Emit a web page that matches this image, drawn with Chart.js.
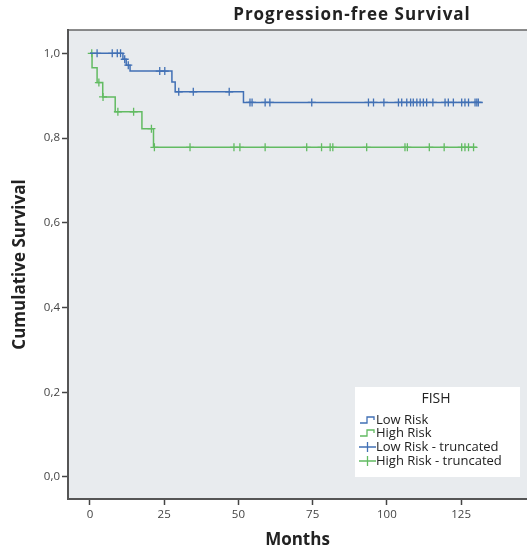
<!DOCTYPE html>
<html>
<head>
<meta charset="utf-8">
<script src="https://cdn.jsdelivr.net/npm/chart.js@4.4.1/dist/chart.umd.min.js"></script>
<style>
  body { margin: 0; background: #fff; }
</style>
</head>
<body>
<canvas id="pfsChart" width="527" height="552"></canvas>
<script>
// Kaplan-Meier steps (months, cumulative survival)
const lowTimes = [0, 11.1, 12.2, 13.5, 27.6, 28.7, 51.7, 132.3];
const lowSurv = [1.0, 0.986, 0.972, 0.958, 0.932, 0.909, 0.884, 0.884];
const highTimes = [0, 0.7, 2.4, 4.3, 8.5, 17.5, 21.4, 130.3];
const highSurv = [1.0, 0.966, 0.931, 0.897, 0.862, 0.822, 0.778, 0.778];

// censored cases (months)
const lowCensor = [2.4, 7.5, 9.2, 10.3, 11.7, 12.9, 23.5, 25.2, 29.9, 34.8, 46.9, 53.9, 54.6, 59, 60.6,
    74.7, 93.8, 95.5, 99, 103.9, 105, 106.7, 108, 108.9, 110.1, 111.2, 112.3, 113.4, 115.5,
    119.6, 120.7, 122.4, 125.2, 126.3, 127.5, 129.7, 130.3, 130.8];
const highCensor = [0.6, 3.0, 4.4, 9.4, 14.7, 20.7, 21.7, 33.7, 48.5, 50.5, 59, 73, 78, 80.9, 81.8,
    93.2, 106.1, 106.9, 114.3, 119.3, 125.2, 126.3, 127.5, 129.2];

const xTicks = [0, 25, 50, 75, 100, 125];
const yTicks = [0, 0.2, 0.4, 0.6, 0.8, 1.0];
const legendLabels = ["Low Risk", "High Risk", "Low Risk - truncated", "High Risk - truncated"];

const blue = "#4170b5";
const green = "#62bb62";

function curvePoints(times, surv) {
    return times.map((t, i) => ({ x: t, y: surv[i] }));
}
// survival level at a censor time = last step at or before it
function censorPoints(cens, times, surv) {
    return cens.map(t => {
        let s = surv[0];
        for (let i = 0; i < times.length; i++) {
            if (times[i] <= t) s = surv[i];
        }
        return { x: t, y: s };
    });
}

const plotBackground = {
    id: 'plotBackground',
    beforeDraw(chart) {
        const { ctx, chartArea: { left, top, right, bottom } } = chart;
        ctx.save();
        ctx.fillStyle = '#e8ebee';
        ctx.fillRect(left, top, right - left, bottom - top);
        ctx.strokeStyle = '#666';
        ctx.lineWidth = 1.5;
        ctx.beginPath();
        ctx.moveTo(left, top);
        ctx.lineTo(right, top);
        ctx.stroke();
        ctx.restore();
    }
};

const titleAndLegend = {
    id: 'titleAndLegend',
    afterDraw(chart) {
        const { ctx } = chart;
        ctx.save();
        ctx.fillStyle = '#222';
        ctx.textAlign = 'center';
        ctx.textBaseline = 'middle';
        ctx.font = "bold 17px 'Open Sans'";
        ctx.letterSpacing = '1px';
        ctx.fillText("Progression-free Survival", 352, 15);
        ctx.letterSpacing = '0px';

        // legend box
        ctx.fillStyle = '#fff';
        ctx.fillRect(355, 387, 165, 90);
        ctx.fillStyle = '#222';
        ctx.font = "14px 'Open Sans'";
        ctx.fillText("FISH", 436, 399);

        ctx.font = "13px 'Open Sans'";
        ctx.textAlign = 'left';
        const rows = [420, 433, 447, 461];
        const cols = [blue, green, blue, green];
        rows.forEach((y, i) => {
            ctx.strokeStyle = cols[i];
            ctx.lineWidth = 1.3;
            ctx.beginPath();
            if (i < 2) {
                ctx.moveTo(360, y + 3);
                ctx.lineTo(367, y + 3);
                ctx.lineTo(367, y - 3);
                ctx.lineTo(374, y - 3);
                ctx.lineTo(374, y);
            } else {
                ctx.moveTo(359, y);
                ctx.lineTo(376, y);
                ctx.moveTo(367.5, y - 5);
                ctx.lineTo(367.5, y + 5);
            }
            ctx.stroke();
            ctx.fillStyle = '#222';
            ctx.fillText(legendLabels[i], 376, y);
        });
        ctx.restore();
    }
};

const data = {
    datasets: [
        {
            label: legendLabels[0],
            data: curvePoints(lowTimes, lowSurv),
            showLine: true,
            stepped: 'before',
            borderColor: blue,
            borderWidth: 1.5,
            pointRadius: 0
        },
        {
            label: legendLabels[1],
            data: curvePoints(highTimes, highSurv),
            showLine: true,
            stepped: 'before',
            borderColor: green,
            borderWidth: 1.5,
            pointRadius: 0
        },
        {
            label: legendLabels[2],
            data: censorPoints(lowCensor, lowTimes, lowSurv),
            showLine: false,
            pointStyle: 'cross',
            pointRadius: 4,
            borderColor: blue,
            borderWidth: 1.3
        },
        {
            label: legendLabels[3],
            data: censorPoints(highCensor, highTimes, highSurv),
            showLine: false,
            pointStyle: 'cross',
            pointRadius: 4,
            borderColor: green,
            borderWidth: 1.3
        }
    ]
};

const config = {
    type: 'scatter',
    data,
    options: {
        responsive: false,
        animation: false,
        layout: { autoPadding: false, padding: { top: 30, left: 0, right: 0, bottom: 0 } },
        plugins: {
            legend: { display: false },
            tooltip: { enabled: false }
        },
        scales: {
            x: {
                type: 'linear',
                min: -7.4,
                max: 147.2,
                afterBuildTicks(scale) {
                    scale.ticks = xTicks.map(v => ({ value: v }));
                },
                afterFit(scale) { scale.height = 53; },
                ticks: {
                    color: '#444',
                    font: { family: 'Open Sans', size: 11.5 },
                    padding: 3,
                    maxRotation: 0
                },
                grid: { drawOnChartArea: false, drawTicks: true, tickLength: 6, tickColor: '#444', tickWidth: 1.5 },
                border: { color: '#555', width: 2 },
                title: {
                    display: true,
                    text: 'Months',
                    color: '#222',
                    font: { family: 'Open Sans', size: 17, weight: 'bold', lineHeight: 1.2 },
                    padding: { top: 0, bottom: 2 }
                }
            },
            y: {
                type: 'linear',
                min: -0.052,
                max: 1.055,
                afterBuildTicks(scale) {
                    scale.ticks = yTicks.map(v => ({ value: v }));
                },
                afterFit(scale) { scale.width = 68; },
                ticks: {
                    color: '#444',
                    font: { family: 'Open Sans', size: 11.5 },
                    padding: 2,
                    callback: v => v.toFixed(1).replace('.', ',')
                },
                grid: { drawOnChartArea: false, drawTicks: true, tickLength: 6, tickColor: '#444', tickWidth: 1.5 },
                border: { color: '#555', width: 2 },
                title: {
                    display: true,
                    text: 'Cumulative Survival',
                    color: '#222',
                    font: { family: 'Open Sans', size: 17, weight: 'bold', lineHeight: 1.2 },
                    padding: { top: 10, bottom: 0 }
                }
            }
        }
    },
    plugins: [plotBackground, titleAndLegend]
};

new Chart(document.getElementById('pfsChart'), config);
</script>
</body>
</html>
